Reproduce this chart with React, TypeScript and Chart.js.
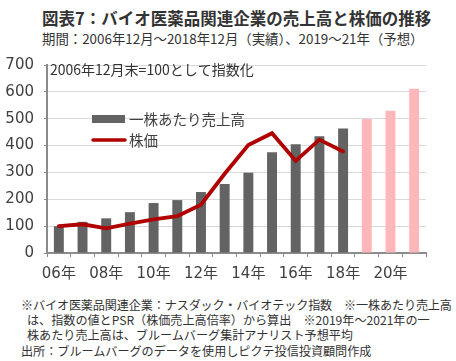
import React, { useEffect, useRef } from "react";
import { Chart, registerables } from "chart.js";

Chart.register(...registerables);

// ---- data ----
const categories = ["2006", "2007", "2008", "2009", "2010", "2011", "2012", "2013", "2014", "2015", "2016", "2017", "2018", "2019", "2020", "2021"];
const xTickLabels = ["06年", "", "08年", "", "10年", "", "12年", "", "14年", "", "16年", "", "18年", "", "20年", ""];
const salesPerShare = [100, 116, 129, 152, 186, 197, 227, 257, 299, 375, 405, 435, 464, 499, 530, 612];
const stockPrice: (number | null)[] = [100, 107, 92, 109, 125, 137, 180, 295, 402, 446, 343, 422, 378, null, null, null];
const forecastCategories = ["2019", "2020", "2021"];
const yTicks = [0, 100, 200, 300, 400, 500, 600, 700];

const seriesBarName = "一株あたり売上高";
const seriesLineName = "株価";
const noteText = "2006年12月末=100として指数化";

const titleText = "図表7：バイオ医薬品関連企業の売上高と株価の推移";
const subtitleText = "期間：2006年12月～2018年12月（実績）、2019～21年（予想）";
const footnotes = [
  "※バイオ医薬品関連企業：ナスダック・バイオテック指数　※一株あたり売上高",
  "は、指数の値とPSR（株価売上高倍率）から算出　※2019年～2021年の一",
  "株あたり売上高は、ブルームバーグ集計アナリスト予想平均",
  "出所：ブルームバーグのデータを使用しピクテ投信投資顧問作成",
];

const BAR_GRAY = "#636363";
const BAR_PINK = "#FFB7B9";
const LINE_RED = "#B00000";
const AXIS_GRAY = "#8c8c8c";
const CJK = '"Noto Sans CJK JP", "Noto Sans", sans-serif';
const TICK_FONT = '"DejaVu Sans", "Noto Sans CJK JP", sans-serif';

const CANVAS_TOP = 46;

const overlayPlugin = {
  id: "overlay",
  afterDraw(chart: any) {
    const ctx = chart.ctx as CanvasRenderingContext2D;
    ctx.save();
    ctx.textBaseline = "middle";
    ctx.textAlign = "left";
    ctx.fillStyle = "#333333";
    ctx.font = `14px ${CJK}`;
    ctx.fillText(noteText, 50, 70 - CANVAS_TOP);

    // legend
    ctx.fillStyle = BAR_GRAY;
    ctx.fillRect(92, 115 - CANVAS_TOP, 33, 8);
    ctx.strokeStyle = LINE_RED;
    ctx.lineWidth = 3.5;
    ctx.lineCap = "round";
    ctx.beginPath();
    ctx.moveTo(93, 140 - CANVAS_TOP);
    ctx.lineTo(125, 140 - CANVAS_TOP);
    ctx.stroke();
    ctx.fillStyle = "#404040";
    ctx.font = `14.5px ${CJK}`;
    ctx.fillText(seriesBarName, 129, 119 - CANVAS_TOP);
    ctx.fillText(seriesLineName, 129, 140 - CANVAS_TOP);
    ctx.restore();
  },
};

function ChartCanvas() {
  const ref = useRef<HTMLCanvasElement | null>(null);
  useEffect(() => {
    if (!ref.current) return;
    const barColors = categories.map((c) => (forecastCategories.includes(c) ? BAR_PINK : BAR_GRAY));
    const chart = new Chart(ref.current, {
      type: "bar",
      data: {
        labels: categories,
        datasets: [
          {
            type: "line",
            label: seriesLineName,
            data: stockPrice,
            borderColor: LINE_RED,
            backgroundColor: LINE_RED,
            borderWidth: 3.8,
            pointRadius: 0,
            tension: 0,
            borderCapStyle: "round",
            order: 0,
          } as any,
          {
            type: "bar",
            label: seriesBarName,
            data: salesPerShare,
            backgroundColor: barColors,
            barPercentage: 0.42,
            categoryPercentage: 1,
            order: 1,
          } as any,
        ],
      },
      options: {
        responsive: false,
        animation: false,
        devicePixelRatio: 1,
        layout: { padding: { top: 10, right: 30, left: 0, bottom: 0 } },
        plugins: { legend: { display: false }, tooltip: { enabled: false } },
        scales: {
          x: {
            grid: { offset: true, drawOnChartArea: false, drawTicks: true, tickLength: 4, tickColor: AXIS_GRAY, lineWidth: 1 },
            border: { display: true, color: AXIS_GRAY, width: 2 },
            ticks: {
              autoSkip: false,
              maxRotation: 0,
              padding: 8,
              color: "#404040",
              font: { family: TICK_FONT, size: 15 },
              callback: (_v: any, i: number) => xTickLabels[i],
            },
            afterFit: (s: any) => {
              s.height = 37;
            },
          },
          y: {
            min: 0,
            max: 700,
            afterBuildTicks: (s: any) => {
              s.ticks = yTicks.map((v) => ({ value: v }));
            },
            ticks: { padding: 10, color: "#404040", font: { family: TICK_FONT, size: 15 } },
            grid: { color: "#d9d9d9", lineWidth: 1, tickLength: 3, tickColor: AXIS_GRAY },
            border: { display: true, color: AXIS_GRAY, width: 2 },
            afterFit: (s: any) => {
              s.width = 47;
            },
          },
        },
      },
      plugins: [overlayPlugin],
    });
    return () => chart.destroy();
  }, []);
  return <canvas ref={ref} width={456} height={244} style={{ position: "absolute", left: 0, top: CANVAS_TOP, width: 456, height: 244 }} />;
}

const lineStyle = (top: number, left: number, size: number, extra: React.CSSProperties = {}): React.CSSProperties => ({
  position: "absolute",
  top,
  left,
  fontFamily: CJK,
  fontSize: size,
  lineHeight: "20px",
  whiteSpace: "pre",
  color: "#333333",
  ...extra,
});

export default function App() {
  return (
    <div style={{ position: "absolute", left: 0, top: 0, width: 456, height: 361, background: "#ffffff", overflow: "hidden" }}>
      <div style={lineStyle(7.5, 42, 16.5, { fontWeight: 700 })}>{titleText}</div>
      <div style={lineStyle(27.5, 42, 13.4)}>{subtitleText}</div>
      <ChartCanvas />
      <div style={lineStyle(295, 21, 12.1, { letterSpacing: "-0.12px" })}>{footnotes[0]}</div>
      <div style={lineStyle(310, 27, 12.1)}>{footnotes[1]}</div>
      <div style={lineStyle(325, 27, 12.1)}>{footnotes[2]}</div>
      <div style={lineStyle(341, 21, 12.1)}>{footnotes[3]}</div>
    </div>
  );
}
